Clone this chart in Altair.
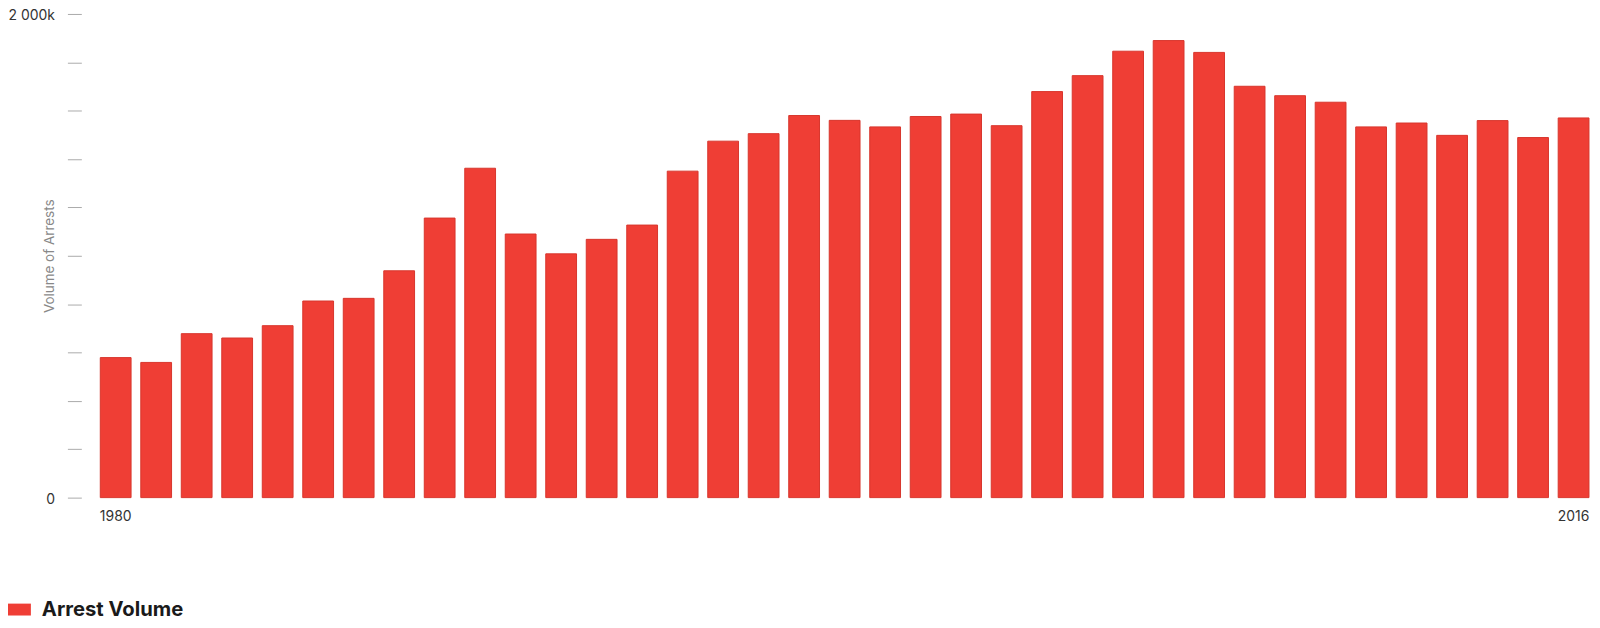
import altair as alt
import pandas as pd

years = [str(y) for y in range(1980, 2017)]
arrests_k = [579, 559, 678, 660, 711, 813, 824, 938, 1156, 1362,
             1090, 1008, 1068, 1127, 1350, 1474, 1505, 1580, 1560, 1533,
             1576, 1586, 1538, 1679, 1745, 1846, 1890, 1841, 1701, 1662,
             1635, 1533, 1549, 1498, 1559, 1489, 1570]
series_name = "Arrest Volume"
y_ticks = list(range(0, 2001, 200))

df = pd.DataFrame({"year": years, "arrests": arrests_k, "series": series_name})

FONT = "Inter"

chart = (
    alt.Chart(df)
    .mark_bar(fill="#ef3e35", stroke="#d8352c", strokeWidth=1)
    .encode(
        x=alt.X(
            "year:O",
            sort=years,
            scale=alt.Scale(paddingInner=0.24, paddingOuter=0.05),
            axis=alt.Axis(
                title=None,
                domain=False,
                ticks=False,
                labelAngle=0,
                labelPadding=12,
                labelBaseline="top",
                labelFontSize=14,
                labelFont=FONT,
                labelColor="#333333",
                labelExpr="datum.label == '1980' || datum.label == '2016' ? datum.label : ''",
            ),
        ),
        y=alt.Y(
            "arrests:Q",
            scale=alt.Scale(domain=[0, 2000], nice=False),
            axis=alt.Axis(
                title="Volume of Arrests",
                values=y_ticks,
                grid=False,
                domain=False,
                offset=17,
                tickSize=14,
                tickColor="#aaaaaa",
                tickWidth=1,
                labelPadding=13,
                labelFlush=False,
                labelOffset=2,
                labelFontSize=14,
                labelFont=FONT,
                labelColor="#333333",
                labelExpr="datum.value == 2000 ? '2 000k' : (datum.value == 0 ? '0' : '')",
                titleFont=FONT,
                titleFontSize=13.5,
                titleFontWeight="normal",
                titleColor="#888888",
                titleX=-32,
                titleY=243,
                titleAngle=270,
                titleAlign="center",
                titleBaseline="middle",
            ),
        ),
        color=alt.Color(
            "series:N",
            scale=alt.Scale(domain=[series_name], range=["#ef3e35"]),
            legend=alt.Legend(
                title=None,
                orient="none",
                legendX=-93.7,
                legendY=585.5,
                symbolType="M-1,-0.46L1,-0.46L1,0.46L-1,0.46Z",
                symbolSize=676,
                symbolStrokeWidth=0,
                labelFont=FONT,
                labelFontSize=20.3,
                labelFontWeight="bold",
                labelColor="#1a1a1a",
                labelOffset=11,
            ),
        ),
    )
    .properties(
        width=1500,
        height=486,
        autosize=alt.AutoSizeParams(type="none"),
        padding={"left": 90.7, "top": 4.5, "right": 1, "bottom": 124},
    )
    .configure_view(stroke=None)
)

chart.save("out.html", embed_options={"renderer": "svg", "actions": False})
